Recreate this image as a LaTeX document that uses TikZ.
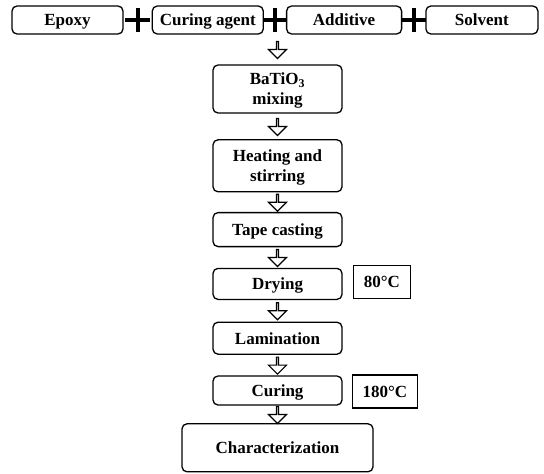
\documentclass[tikz,border=0pt]{standalone}
\usepackage{fontspec}
\setmainfont{Liberation Serif}
\usepackage{tikz}
\usetikzlibrary{positioning,shapes.arrows,shapes.misc}

\tikzset{
  ingbox/.style={draw, rounded corners=5pt, line width=1.3pt, minimum height=28pt, minimum width=111pt, inner sep=2pt, text depth=0pt},
  stagebox/.style={draw, rounded corners=5pt, line width=1.3pt, minimum width=129pt, align=center, inner sep=2pt, text depth=0pt},
  tempbox/.style={draw, line width=1.6pt, minimum height=33pt, inner sep=3pt, text depth=0pt},
  flowarrow/.style={draw, single arrow, shape border rotate=270, line width=1.2pt, minimum height=17pt, minimum width=18pt, single arrow head extend=4.5pt, inner sep=0pt},
  plussign/.style={cross out, draw, rotate=45, line width=4.2pt, minimum size=13pt, inner sep=0pt},
}

\begin{document}
\begin{tikzpicture}[font=\fontsize{17}{20}\selectfont\bfseries]
              \useasboundingbox (0,0) rectangle (544pt,-474pt);
              % ingredients
              \node[ingbox] (epoxy) at (67.5pt,-20pt) {Epoxy};
              \node[ingbox, right=28pt of epoxy] (agent) {Curing agent};
              \node[ingbox, right=22pt of agent, minimum width=115pt] (additive) {Additive};
              \node[ingbox, right=23pt of additive, minimum width=112pt] (solvent) {Solvent};

              % process steps
              \node[stagebox, minimum height=48pt] (mixing) at (277.5pt,-89pt) {BaTiO\textsubscript{3}\\mixing};
              \node[stagebox, minimum height=52pt, below=25.5pt of mixing] (heating) {Heating and\\stirring};
              \node[stagebox, minimum height=34pt, below=19.5pt of heating] (tape) {Tape casting};
              \node[stagebox, minimum height=31pt, below=20.5pt of tape] (drying) {Drying};
              \node[stagebox, minimum height=32pt, below=21.5pt of drying] (lamination) {Lamination};
              \node[stagebox, minimum height=29pt, below=20.5pt of lamination] (curing) {Curing};
              \node[stagebox, minimum height=48pt, minimum width=191pt, below=17.5pt of curing] (charac) {Characterization};

              % temperatures
              \node[tempbox, minimum width=57pt, right=10pt of drying, yshift=2pt] (tdry) {80°C};
              \node[tempbox, minimum width=65pt, right=9pt of curing, yshift=-1pt] (tcure) {180°C};

              %plus signs
              \path (epoxy.east) -- node[plussign] {} (agent.west);
              \path (agent.east) -- node[plussign] {} (additive.west);
              \path (additive.east) -- node[plussign] {} (solvent.west);

              %row>mixing
              \path (mixing.north |- agent.south) -- node[flowarrow] {} (mixing.north);
              %step>step
              \path (mixing.south) -- node[flowarrow] {} (heating.north);
              \path (heating.south) -- node[flowarrow] {} (tape.north);
              \path (tape.south) -- node[flowarrow] {} (drying.north);
              \path (drying.south) -- node[flowarrow] {} (lamination.north);
              \path (lamination.south) -- node[flowarrow] {} (curing.north);
              \path (curing.south) -- node[flowarrow] {} (charac.north);
            \end{tikzpicture}
\end{document}
